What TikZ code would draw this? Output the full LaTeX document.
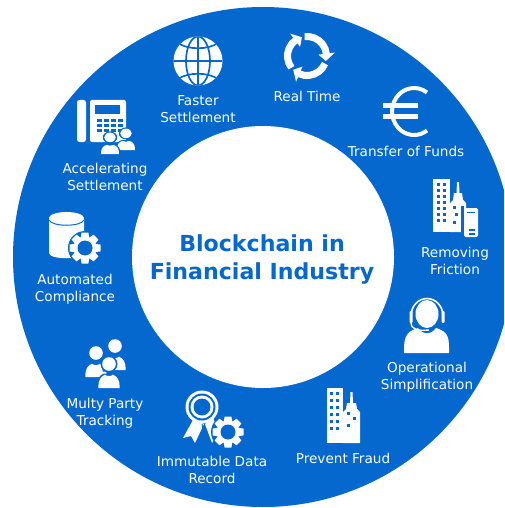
\documentclass[tikz,border=0pt]{standalone}
\usepackage{fontspec}
\usetikzlibrary{calc}
\setmainfont{DejaVu Sans}
\definecolor{ringblue}{HTML}{0468CE}
\tikzset{x=1pt,y=-1pt,
  lbl/.style={text=white,align=center,inner sep=0pt,font=\fontsize{13.6}{17}\selectfont},
  ttl/.style={text=ringblue,align=center,inner sep=0pt,font=\fontsize{22.1}{28.5}\selectfont\bfseries},
  pics/gearicon/.style={code={
    \fill[ringblue] (0,0) circle (17);
    \foreach \a in {0,45,...,315}{
      \fill[white,rotate=\a] (-3.4,-15.5) -- (3.4,-15.5) -- (4.4,-9) -- (-4.4,-9) -- cycle;}
    \fill[white] (0,0) circle (11.5);
    \fill[ringblue] (0,0) circle (7.5);
  }},
  pics/persona/.style={code={
    \fill[ringblue] (0,-9.5) circle (8.5);
    \fill[ringblue] (-12.5,16) .. controls (-13,5) and (-9,1.5) .. (-5,0) -- (5,0) .. controls (9,1.5) and (13,5) .. (12.5,16) -- cycle;
    \fill[white] (0,-9.5) circle (6.8);
    \fill[white] (-10.5,14.5) .. controls (-11,6) and (-8,3) .. (-4,1.2) .. controls (-2,3) and (2,3) .. (4,1.2) .. controls (8,3) and (11,6) .. (10.5,14.5) -- cycle;
  }}
}
\begin{document}
\begin{tikzpicture}
\useasboundingbox (0,0) rectangle (504,508);
\fill[white] (0,0) rectangle (504,508);
\begin{scope}
\clip (0,0) rectangle (504,508);
\fill[ringblue] (263,257) circle (250);
\fill[white] (263,257) circle (131);
\end{scope}

% globe
\fill[white] (198,61) circle (24.5);
\begin{scope}
\clip (198,61) circle (24.5);
\draw[ringblue,line width=1.7] (198,61) ellipse (12 and 24.5);
\draw[ringblue,line width=1.7] (198,36) -- (198,86);
\draw[ringblue,line width=1.7] (173,61) -- (223,61);
\draw[ringblue,line width=1.7] (178,43) .. controls (188,50) and (208,50) .. (218,43);
\draw[ringblue,line width=1.7] (178,79) .. controls (188,72) and (208,72) .. (218,79);
\end{scope}

% circular arrows
\foreach \a in {23,143,263}{
  \draw[white,line width=7] ($(307,56)+(\a:19.5)$) arc[start angle=\a,delta angle=92,radius=19.5];
  \fill[white] ($(307,56)+(\a+90:11.5)$) -- ($(307,56)+(\a+90:28)$) -- ($(307,56)+(\a+112:19.5)$) -- cycle;
}

% euro
\draw[white,line width=4] (427,92.5) arc[start angle=306,end angle=54,x radius=22,y radius=23.5];
\fill[white] (383,103.5) -- (418,103.5) -- (418,108) -- (383,108) -- cycle;
\fill[white] (383,114) -- (418,114) -- (418,118.5) -- (383,118.5) -- cycle;

% towers with handset
\fill[white] (433,179) rectangle (450,232);
\foreach \yy in {183,189,195,201,207,213,219}{
  \fill[ringblue] (437,\yy) rectangle (440,\yy+3);
  \fill[ringblue] (443,\yy) rectangle (446,\yy+3);}
\fill[white] (450,232) -- (450,203) -- (453,200) -- (454,193) -- (456.5,193) -- (457,182) -- (459,182) -- (459.5,193) -- (462,193) -- (463,200) -- (466,203) -- (466,232) -- cycle;
\fill[ringblue] (453,206) rectangle (456,209);
\fill[ringblue] (455,213) rectangle (458,216);
\fill[ringblue] (453,221) rectangle (456,224);
\fill[ringblue] (461,206) rectangle (464,238);
\fill[white,rounded corners=1.5] (464,208) rectangle (478,237);
\fill[ringblue] (467,211.5) rectangle (475,213);
\fill[ringblue] (469,229) rectangle (475,230.5);
\fill[ringblue] (469,233) rectangle (475,234.5);

% headset
\fill[white] (427,314) ellipse (11.5 and 14);
\draw[white,line width=1.6] (411,316) arc[start angle=180,end angle=360,x radius=16,y radius=17.5];
\fill[white,rounded corners=1] (409.5,311) rectangle (412.5,323);
\fill[white,rounded corners=1] (441.5,311) rectangle (444.5,323);
\draw[ringblue,line width=2.4] (413,326) .. controls (416,332) and (422,330) .. (427,330);
\draw[white,line width=1.4] (411,322) .. controls (411,330) and (418,331) .. (429,330);
\fill[white] (404,353) .. controls (404,340) and (404,332) .. (418,328) .. controls (423,335) and (431,335) .. (436,328) .. controls (450,332) and (449,340) .. (449,353) -- cycle;

% prevent fraud towers
\fill[white] (327,388) rectangle (343,443);
\foreach \yy in {392,399,406,413,420,427}{
  \fill[ringblue] (330,\yy) rectangle (333,\yy+3);
  \fill[ringblue] (336,\yy) rectangle (339,\yy+3);}
\fill[white] (343,443) -- (343,412) -- (346,409) -- (347,403) -- (350,403) -- (350.5,392) -- (352.5,392) -- (353,403) -- (356,403) -- (357,409) -- (360,412) -- (360,443) -- cycle;
\fill[ringblue] (347,412) rectangle (350,415);
\fill[ringblue] (353,417) rectangle (356,420);
\fill[ringblue] (347,424) rectangle (350,427);

% award with gear
\fill[white] (193,420) -- (183,438) -- (191,436) -- (195,443) -- (204,424) -- cycle;
\fill[white] (205,424) -- (212,443) -- (216,436) -- (221,436) -- (213,418) -- cycle;
\draw[ringblue,line width=1] (202,424) -- (205,440);
\fill[white] (202,407) circle (16.5);
\fill[ringblue] (202,407) circle (13.5);
\fill[white] (202,407) circle (11.5);
\fill[ringblue] (202,407) circle (8.5);
\pic at (228,432) {gearicon};

% three people
\pic at (96,362.5) {persona};
\pic at (115,355.5) {persona};
\pic at (109,373.5) {persona};

% database with gear
\fill[white] (49,219) -- (49,253) .. controls (49,260) and (84,260) .. (84,253) -- (84,219) -- cycle;
\fill[white] (66.5,218) ellipse (17.5 and 6);
\draw[ringblue,line width=1] (49,220) .. controls (52,227) and (81,227) .. (84,220);
\pic at (85,248) {gearicon};

% desk phone with people
\fill[white,rounded corners=2.5] (77,100) rectangle (86,142);
\fill[white,rounded corners=2] (90,100) rectangle (126,142);
\fill[ringblue] (95,105) rectangle (120,114);
\foreach \yy in {119,124,129}{\foreach \xx in {97,104,111,118}{
  \fill[ringblue] (\xx,\yy) rectangle (\xx+5,\yy+3);}}
\pic[xscale=0.85,yscale=0.7] at (126,140) {persona};
\pic[xscale=0.85,yscale=0.7] at (110,144) {persona};

% labels
\node[lbl] (faster) at (198,109) {Faster\\Settlement};
\node[lbl] (realtime) at (307,96) {Real Time};
\node[lbl] (transfer) at (406,151) {Transfer of Funds};
\node[lbl] (removing) at (455,260.5) {Removing\\Friction};
\node[lbl] (operational) at (427,377.5) {Operational\\Simplification};
\node[lbl] (fraud) at (343,458) {Prevent Fraud};
\node[lbl] (immutable) at (212,469.5) {Immutable Data\\Record};
\node[lbl] (multy) at (105,413) {Multy Party\\Tracking};
\node[lbl] (automated) at (75,289) {Automated\\Compliance};
\node[lbl] (accel) at (105,176.5) {Accelerating\\Settlement};
\node[ttl] (title) at (262,259.5) {Blockchain in\\Financial Industry};
\end{tikzpicture}
\end{document}
